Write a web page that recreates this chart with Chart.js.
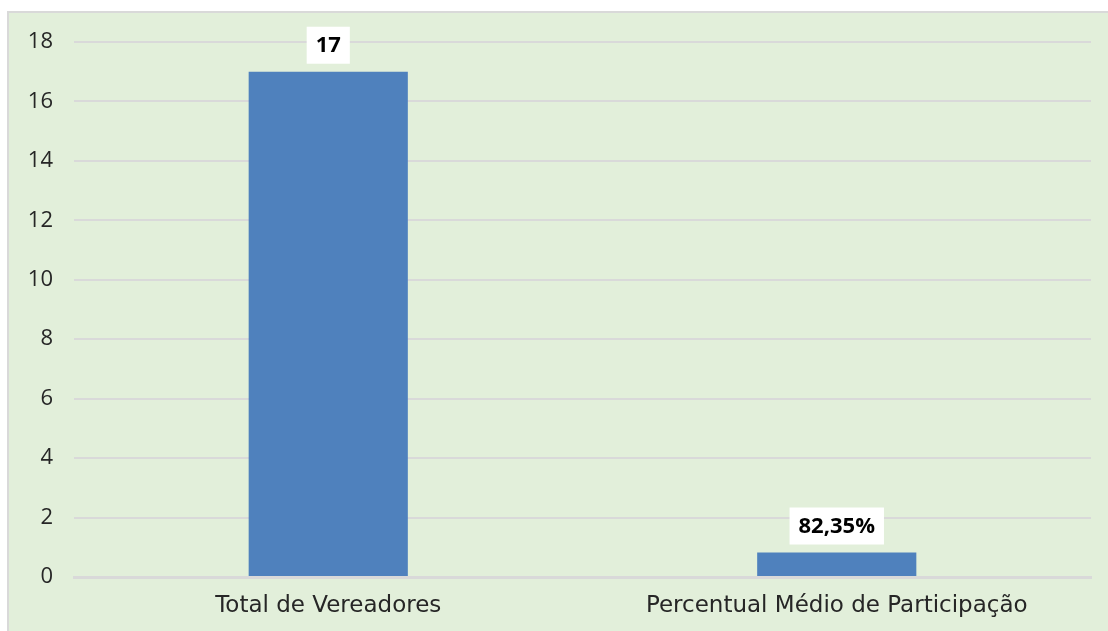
<!DOCTYPE html>
<html><head><meta charset="utf-8">
<script src="https://cdn.jsdelivr.net/npm/chart.js@4/dist/chart.umd.min.js"></script>
<style>html,body{margin:0;padding:0;background:#fff;}#wrap{width:1108px;height:631px;}</style>
</head><body><div id="wrap"><canvas id="c" width="1108" height="631"></canvas></div>
<script>
const categories = ["Total de Vereadores", "Percentual Médio de Participação"];
const values = [17, 0.8235];
const valueLabels = ["17", "82,35%"];
const yTicks = [0, 2, 4, 6, 8, 10, 12, 14, 16, 18];

const FONT = "'Open Sans', Lato, sans-serif";
const XFONT = "'DejaVu Sans', sans-serif";

const bgPlugin = {
  id: 'bg',
  beforeDraw(chart) {
    const ctx = chart.ctx;
    ctx.save();
    ctx.fillStyle = '#E2EFDA';
    ctx.fillRect(8, 12, chart.width - 8, chart.height - 12);
    ctx.strokeStyle = '#D9D9D9';
    ctx.lineWidth = 2;
    ctx.beginPath();
    ctx.moveTo(8, chart.height);
    ctx.lineTo(8, 12);
    ctx.lineTo(chart.width, 12);
    ctx.stroke();
    ctx.restore();
  }
};

const labelPlugin = {
  id: 'vlabels',
  afterDatasetsDraw(chart) {
    const ctx = chart.ctx;
    const meta = chart.getDatasetMeta(0);
    ctx.save();
    ctx.font = "bold 22px " + FONT;
    ctx.textAlign = 'center';
    ctx.textBaseline = 'middle';
    meta.data.forEach((bar, i) => {
      const txt = valueLabels[i];
      const w = ctx.measureText(txt).width + 18;
      const h = 37;
      const bottom = bar.y - 8;
      ctx.fillStyle = '#FFFFFF';
      ctx.fillRect(bar.x - w / 2, bottom - h, w, h);
      ctx.fillStyle = '#000000';
      ctx.fillText(txt, bar.x, bottom - h / 2 + 1);
    });
    ctx.restore();
  }
};

new Chart(document.getElementById('c'), {
  type: 'bar',
  data: {
    labels: categories,
    datasets: [{
      data: values,
      backgroundColor: '#4F81BD',
      borderWidth: 0,
      categoryPercentage: 1,
      barPercentage: 0.313
    }]
  },
  options: {
    responsive: false,
    animation: false,
    devicePixelRatio: 1,
    layout: { padding: { left: 0, right: 17, top: 42, bottom: 0 } },
    plugins: { legend: { display: false }, tooltip: { enabled: false } },
    scales: {
      y: {
        min: 0, max: 18,
        afterBuildTicks(scale) { scale.ticks = yTicks.map(v => ({ value: v })); },
        afterFit(scale) { scale.width = 74; },
        border: { display: false },
        grid: { color: '#D9D9D9', lineWidth: 2, drawTicks: false },
        ticks: { padding: 21, color: '#262626', font: { family: FONT, size: 22 } }
      },
      x: {
        afterFit(scale) { scale.height = 54; },
        border: { display: true, color: '#D9D9D9', width: 3 },
        grid: { display: false, drawTicks: false },
        ticks: { padding: 15, color: '#262626', font: { family: XFONT, size: 23 } }
      }
    }
  },
  plugins: [bgPlugin, labelPlugin]
});
</script></body></html>
